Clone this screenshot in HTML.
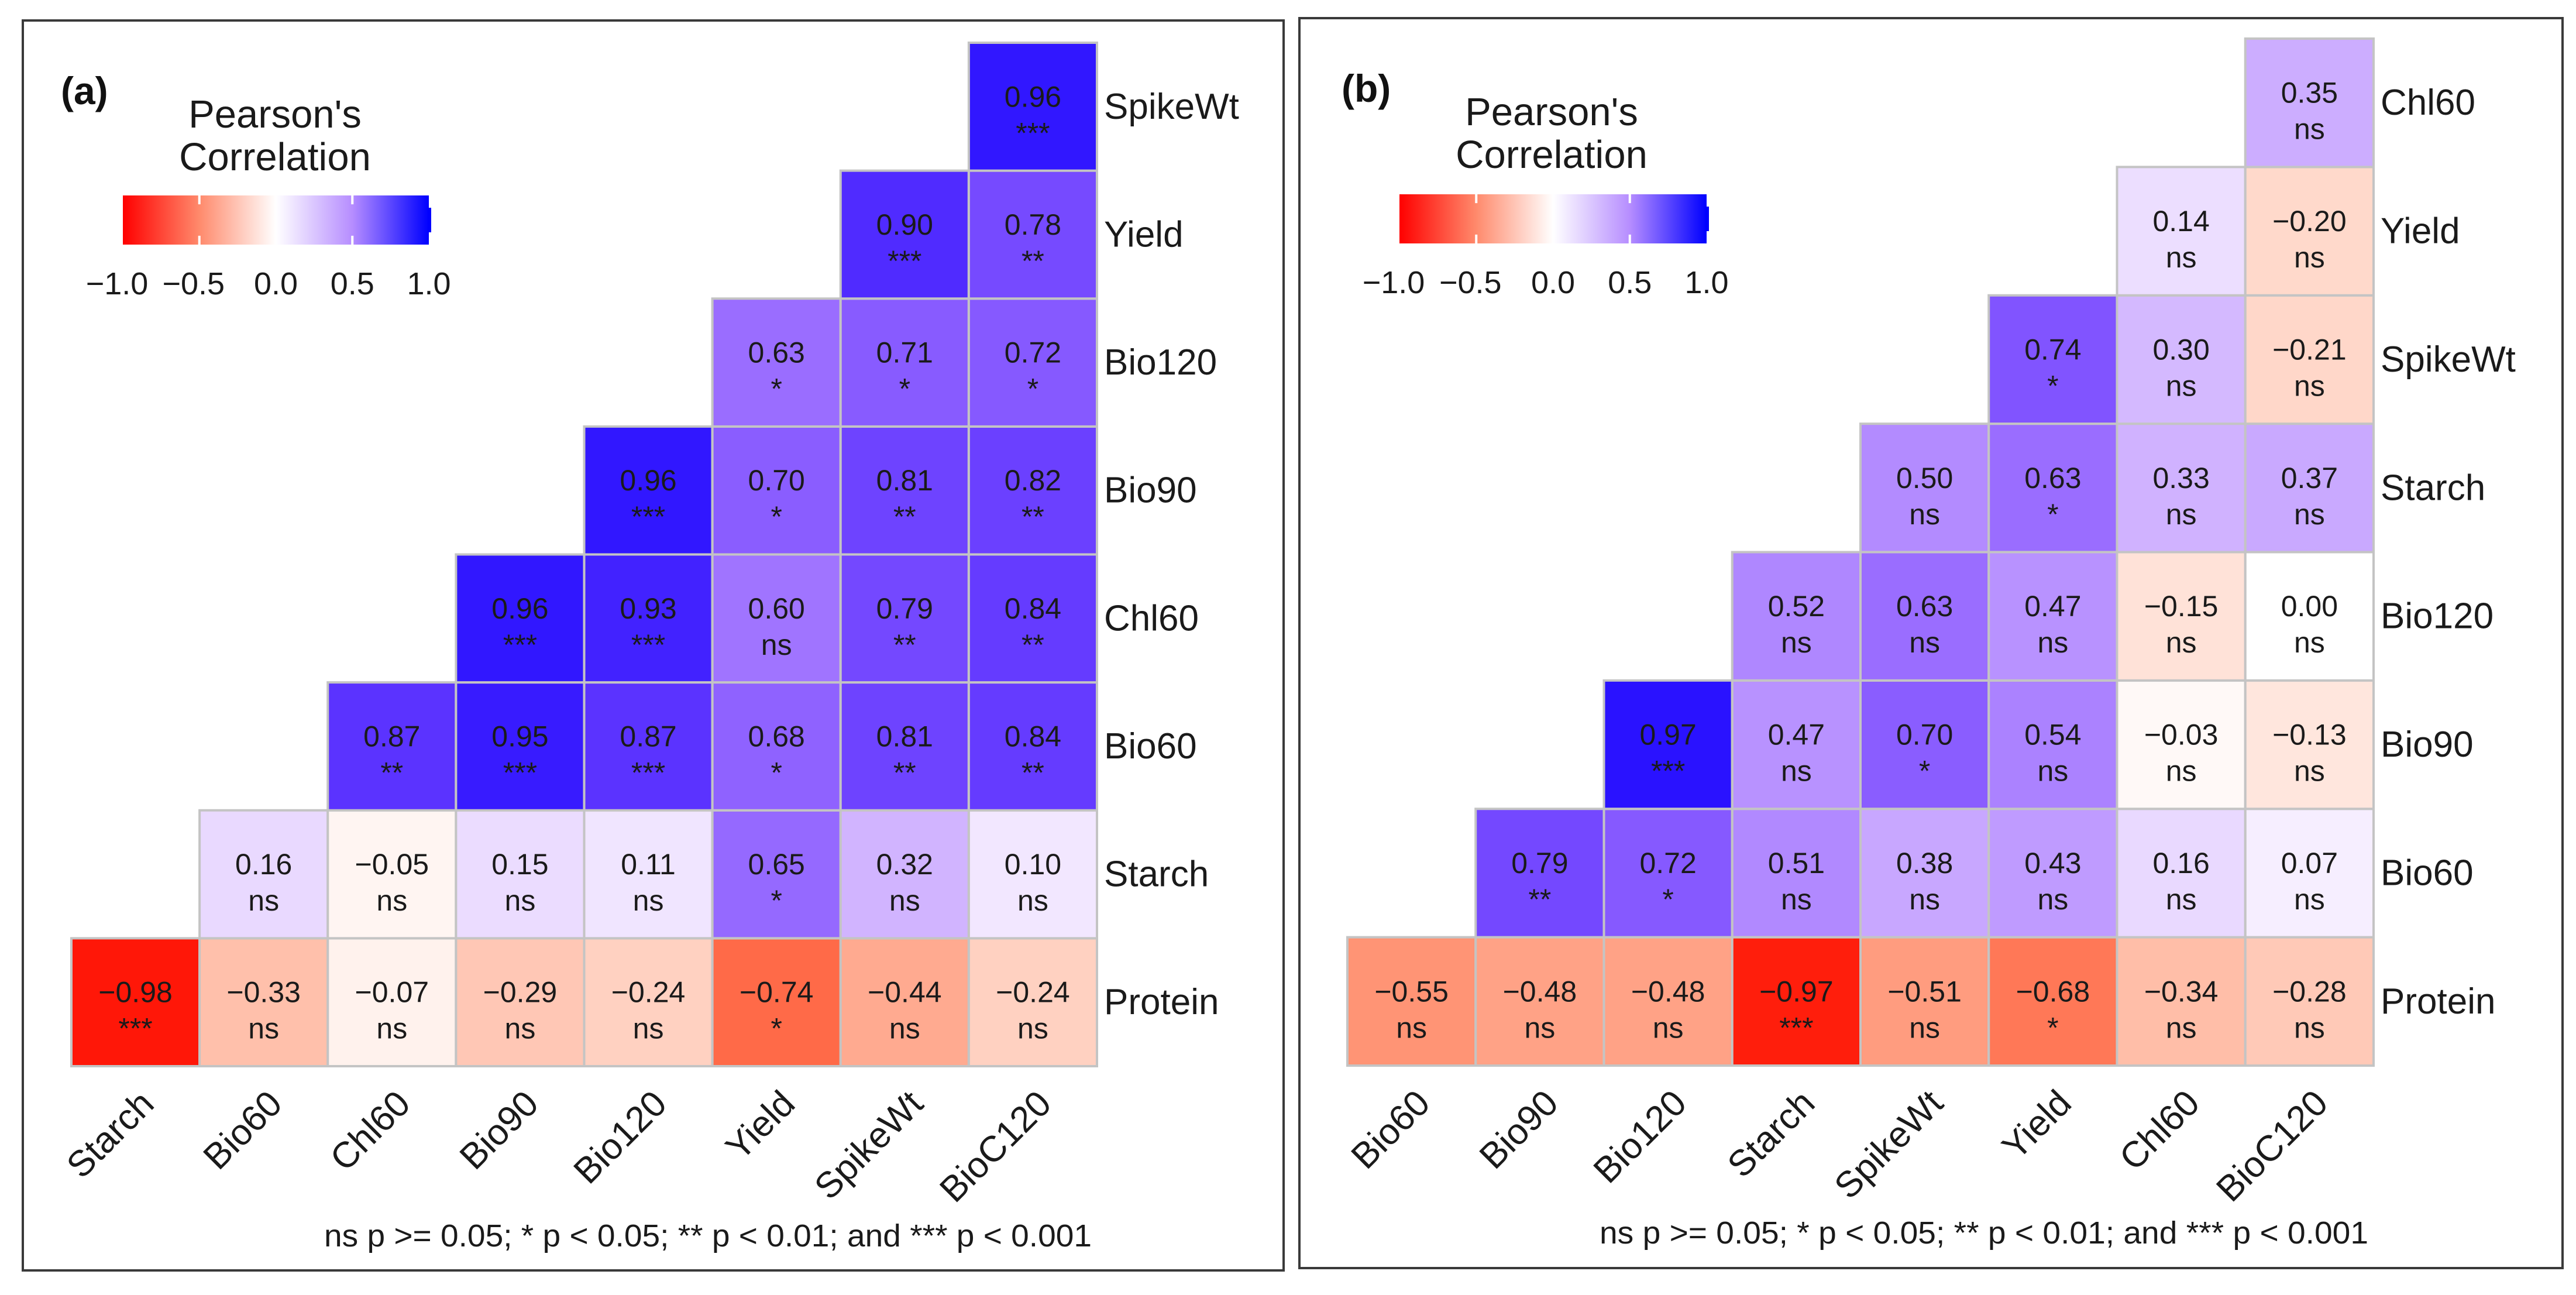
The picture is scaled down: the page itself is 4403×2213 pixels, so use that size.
<!DOCTYPE html>
<html><head><meta charset="utf-8"><style>
html,body{margin:0;padding:0;background:#fff}
svg{display:block;font-family:"Liberation Sans",Arial,sans-serif}
</style></head><body>
<svg id="chart" width="4403" height="2213" viewBox="0 0 4403 2213" xmlns="http://www.w3.org/2000/svg">
<defs>
<linearGradient id="lg" x1="0" x2="1" y1="0" y2="0">
<stop offset="0" stop-color="#ff0000"/><stop offset="0.25" stop-color="#ff8a6c"/>
<stop offset="0.5" stop-color="#ffffff"/><stop offset="0.75" stop-color="#b68dff"/>
<stop offset="1" stop-color="#0000ff"/></linearGradient>
</defs>
</svg>
<script>
// Panel (a)
const rowsA = ["Protein","Starch","Bio60","Chl60","Bio90","Bio120","Yield","SpikeWt"];
const colsA = ["Starch","Bio60","Chl60","Bio90","Bio120","Yield","SpikeWt","BioC120"];
const valsA = [
 [-0.98,-0.33,-0.07,-0.29,-0.24,-0.74,-0.44,-0.24],
 [0.16,-0.05,0.15,0.11,0.65,0.32,0.10],
 [0.87,0.95,0.87,0.68,0.81,0.84],
 [0.96,0.93,0.60,0.79,0.84],
 [0.96,0.70,0.81,0.82],
 [0.63,0.71,0.72],
 [0.90,0.78],
 [0.96]];
const sigA = [
 ["***","ns","ns","ns","ns","*","ns","ns"],
 ["ns","ns","ns","ns","*","ns","ns"],
 ["**","***","***","*","**","**"],
 ["***","***","ns","**","**"],
 ["***","*","**","**"],
 ["*","*","*"],
 ["***","**"],
 ["***"]];
// Panel (b)
const rowsB = ["Protein","Bio60","Bio90","Bio120","Starch","SpikeWt","Yield","Chl60"];
const colsB = ["Bio60","Bio90","Bio120","Starch","SpikeWt","Yield","Chl60","BioC120"];
const valsB = [
 [-0.55,-0.48,-0.48,-0.97,-0.51,-0.68,-0.34,-0.28],
 [0.79,0.72,0.51,0.38,0.43,0.16,0.07],
 [0.97,0.47,0.70,0.54,-0.03,-0.13],
 [0.52,0.63,0.47,-0.15,0.00],
 [0.50,0.63,0.33,0.37],
 [0.74,0.30,-0.21],
 [0.14,-0.20],
 [0.35]];
const sigB = [
 ["ns","ns","ns","***","ns","*","ns","ns"],
 ["**","*","ns","ns","ns","ns","ns"],
 ["***","ns","*","ns","ns","ns"],
 ["ns","ns","ns","ns","ns"],
 ["ns","*","ns","ns"],
 ["*","ns","ns"],
 ["ns","ns"],
 ["ns"]];
const legendTicks = [-1.0,-0.5,0.0,0.5,1.0];
const tickLabels = ["\u22121.0","\u22120.5","0.0","0.5","1.0"];

const NS="http://www.w3.org/2000/svg";
const svg=document.getElementById('chart');
function mk(tag,attrs,parent){const e=document.createElementNS(NS,tag);for(const k in attrs)e.setAttribute(k,attrs[k]);(parent||svg).appendChild(e);return e;}

// Lab interpolation
function s2l(c){c/=255;return c<=0.04045?c/12.92:Math.pow((c+0.055)/1.055,2.4);}
function l2s(c){c=c<=0.0031308?12.92*c:1.055*Math.pow(c,1/2.4)-0.055;return Math.max(0,Math.min(255,Math.round(c*255)));}
function toLab(r,g,b){r=s2l(r);g=s2l(g);b=s2l(b);
 let x=(r*0.4124+g*0.3576+b*0.1805)/0.95047,y=r*0.2126+g*0.7152+b*0.0722,z=(r*0.0193+g*0.1192+b*0.9505)/1.08883;
 const f=t=>t>0.008856?Math.cbrt(t):7.787*t+16/116;x=f(x);y=f(y);z=f(z);
 return [116*y-16,500*(x-y),200*(y-z)];}
function fromLab(L,a,bb){let y=(L+16)/116,x=a/500+y,z=y-bb/200;
 const fi=t=>t*t*t>0.008856?t*t*t:(t-16/116)/7.787;x=fi(x)*0.95047;y=fi(y);z=fi(z)*1.08883;
 const r=x*3.2406+y*-1.5372+z*-0.4986,g=x*-0.9689+y*1.8758+z*0.0415,b=x*0.0557+y*-0.2040+z*1.0570;
 return `rgb(${l2s(r)},${l2s(g)},${l2s(b)})`;}
const W=toLab(255,255,255),R=toLab(255,0,0),B=toLab(0,0,255);
function color(v){const t=Math.min(1,Math.abs(v));const E=v<0?R:B;
 return fromLab(W[0]+(E[0]-W[0])*t,W[1]+(E[1]-W[1])*t,W[2]+(E[2]-W[2])*t);}
function fmt(v){const s=Math.abs(v).toFixed(2);return v<0?"\u2212"+s:s;}

function panel(o){
 const g=mk('g',{});
 
 
 const fr=mk('rect',{x:o.frame[0],y:o.frame[1],width:o.frame[2],height:o.frame[3],fill:'none',stroke:'#3a3a3a','stroke-width':4},g);
 
 
 const lab=mk('text',{x:o.tag[0],y:o.tag[1],'font-size':66,'font-weight':'bold',fill:'#111'},g);
 lab.textContent=o.label;
 
 
 const n=o.cols.length, cs=(o.gx1-o.gx0)/n, rs=(o.gy1-o.gy0)/n;
 const xc=i=>o.gx0+cs*(i+0.5);
 const yc=r=>o.gy1-rs*(r+0.5);
 for(let r=0;r<o.vals.length;r++){
  for(let k=0;k<o.vals[r].length;k++){
   const c=r+k,v=o.vals[r][k];
   const rc=mk('rect',{x:xc(c)-cs/2,y:yc(r)-rs/2,width:cs,height:rs,fill:color(v),stroke:'#c4c4c4','stroke-width':4},g);
   
   
   const t=mk('text',{x:xc(c),y:yc(r)-17,'font-size':50,'text-anchor':'middle','dominant-baseline':'central',fill:'#1a1a1a'},g);
   t.textContent=fmt(v);
   
   
   const s=mk('text',{x:xc(c),y:yc(r)+62,'font-size':50,'text-anchor':'middle',fill:'#1a1a1a'},g);
   s.textContent=o.sig[r][k];
   
   
  }
 }
 o.rows.forEach((name,r)=>{
  const t=mk('text',{x:o.gx1+12,y:yc(r),'font-size':62,'dominant-baseline':'central',fill:'#1a1a1a'},g);
  t.textContent=name;
  
  
 });
 o.cols.forEach((name,i)=>{
  const x=xc(i)+35,y=o.gy1+68;
  const t=mk('text',{x:x,y:y,'font-size':62,'text-anchor':'end',transform:`rotate(-45 ${x} ${y})`,fill:'#1a1a1a'},g);
  t.textContent=name;
  
  
 });
 const L=o.leg;
 const t1=mk('text',{x:L.cx,y:L.ty,'font-size':67,'text-anchor':'middle',fill:'#1a1a1a'},g);
 t1.textContent="Pearson's";
 
 
 const t2=mk('text',{x:L.cx,y:L.ty+73,'font-size':67,'text-anchor':'middle',fill:'#1a1a1a'},g);
 t2.textContent="Correlation";
 
 
 const bar=mk('rect',{x:L.x0,y:L.y0,width:L.x1-L.x0,height:L.h,fill:'url(#lg)'},g);
 
 
 const nub=mk('rect',{x:L.x1-2,y:L.y0+L.h*0.25,width:6,height:L.h*0.5,fill:'#0000ff'},g);
 
 
 const lx=v=>L.x0+(v+1)/2*(L.x1-L.x0);
 legendTicks.forEach((v,i)=>{
  if(v>-1&&v<1&&v!==0){
   const a=mk('line',{x1:lx(v),x2:lx(v),y1:L.y0,y2:L.y0+L.h*0.18,stroke:'#fff','stroke-width':4},g);
   
   
   const b=mk('line',{x1:lx(v),x2:lx(v),y1:L.y0+L.h*0.82,y2:L.y0+L.h,stroke:'#fff','stroke-width':4},g);
   
   
  }
  const tl=mk('text',{x:lx(v)-(v<0?10:0),y:L.y0+L.h+85,'font-size':54,'text-anchor':'middle',fill:'#1a1a1a'},g);
  tl.textContent=tickLabels[i];
  
  
 });
 const fn=mk('text',{x:o.foot[0],y:o.foot[1],'font-size':54,textLength:o.foot[2],lengthAdjust:'spacingAndGlyphs',fill:'#1a1a1a'},g);
 fn.textContent="ns p >= 0.05; * p < 0.05; ** p < 0.01; and *** p < 0.001";
 
 
}
panel({name:'panel-a',label:'(a)',frame:[39,35,2155,2136],tag:[104,178],rows:rowsA,cols:colsA,vals:valsA,sig:sigA,
 gx0:122,gx1:1875,gy0:73,gy1:1822,leg:{cx:470,ty:218,x0:210,x1:733,y0:334,h:84},foot:[554,2130,1312]});
panel({name:'panel-b',label:'(b)',frame:[2221,31,2159,2136],tag:[2293,174],rows:rowsB,cols:colsB,vals:valsB,sig:sigB,
 gx0:2303,gx1:4057,gy0:66,gy1:1821,leg:{cx:2652,ty:214,x0:2392,x1:2917,y0:332,h:84},foot:[2734,2125,1314]});
</script>
</body></html>
